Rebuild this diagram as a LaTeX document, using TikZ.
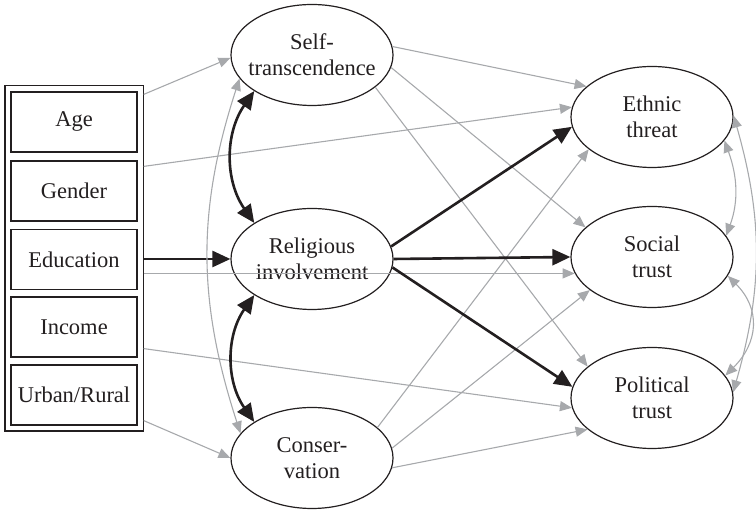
\documentclass[tikz,border=0pt]{standalone}
\usepackage{fontspec}
\setmainfont{Liberation Serif}
\usetikzlibrary{arrows.meta,fit,calc,shapes.geometric}
\definecolor{ink}{HTML}{231F20}
\definecolor{pathgray}{HTML}{A7A9AC}

\begin{document}
\begin{tikzpicture}[x=1pt,y=1pt,
  labelfont/.style={font=\fontsize{22.5}{26}\selectfont, text=ink},
  latent/.style={labelfont, draw=ink, line width=1.2pt, ellipse, align=center,
    minimum width=162pt, minimum height=101pt, inner xsep=-20pt, inner ysep=0pt},
  observed/.style={labelfont, draw=ink, line width=1.2pt,
    minimum width=126pt, minimum height=60pt, inner sep=0pt},
  framebox/.style={draw=ink, line width=1.2pt, inner sep=5.5pt},
  strongpath/.style={draw=ink, line width=2.6pt, -{Triangle[length=18pt,width=16pt]}},
  strongcov/.style={draw=ink, line width=2.6pt,
    {Triangle[length=18pt,width=16pt]}-{Triangle[length=18pt,width=16pt]}},
  weakpath/.style={draw=pathgray, line width=1.1pt, -{Triangle[length=12pt,width=10pt]}},
  weakcov/.style={draw=pathgray, line width=1.1pt,
    {Triangle[length=12pt,width=10pt]}-{Triangle[length=12pt,width=10pt]}}
]
\useasboundingbox (0,0) rectangle (756,510);

% latent variables
\node[latent] (self) at (312,455) {Self-\\transcendence};
\node[latent] (rel)  at (312,251) {Religious\\involvement};
\node[latent] (cons) at (312,52)  {Conser-\\vation};
\node[latent] (eth)  at (652,393) {Ethnic\\threat};
\node[latent] (soc)  at (652,253) {Social\\trust};
\node[latent] (pol)  at (652,112) {Political\\trust};

% control variables
\node[observed] (age) at (74,388)   {Age};
\node[observed] (gen) at (74,319)   {Gender};
\node[observed] (edu) at (74,250.5) {Education};
\node[observed] (inc) at (74,183)   {Income};
\node[observed] (urb) at (74,115)   {Urban/Rural};
\node[framebox, fit=(age)(urb)] (frame) {};

% paths from the control block
\draw[weakpath] ($(frame.east |- age.north)+(0,-3)$) -- (self.182);
\draw[weakpath] ($(frame.east |- gen.north)+(0,-6)$) -- (eth.173);
\draw[weakpath] (frame.east |- soc.192) -- (soc.192);
\draw[weakpath] ($(frame.east |- inc.south)+(0,9)$) -- (pol.187);
\draw[weakpath] ($(frame.east |- urb.south)+(0,5)$) -- (cons.180);
\draw[strongpath] (frame.east |- rel.west) -- (rel.west);

% paths from the value orientations
\draw[weakpath] (self.6)   -- (eth.155);
\draw[weakpath] (self.351) -- (soc.156);
\draw[weakpath] (self.333) -- (pol.154);
\draw[weakpath] (cons.25)  -- (eth.207);
\draw[weakpath] (cons.7)   -- (soc.208);
\draw[weakpath] (cons.353) -- (pol.206);

% paths from religious involvement
\draw[strongpath] (rel.9)   -- (eth.187);
\draw[strongpath] (rel.0)   -- (soc.180);
\draw[strongpath] (rel.354) -- (pol.172);

% covariances among the mediators
\draw[strongcov] (self.212) to[out=235,in=125] (rel.148);
\draw[strongcov] (rel.212) to[out=235,in=125] (cons.148);
\draw[weakcov] (self.198) to[out=252,in=108] (cons.161);

% covariances among the outcomes
\draw[weakcov] (eth.342) to[out=290,in=70] (soc.16);
\draw[weakcov] (eth.1) to[out=286,in=74] (pol.4);
\draw[weakcov] (soc.346) to[out=315,in=45,looseness=1.2] (pol.17);
\end{tikzpicture}
\end{document}
